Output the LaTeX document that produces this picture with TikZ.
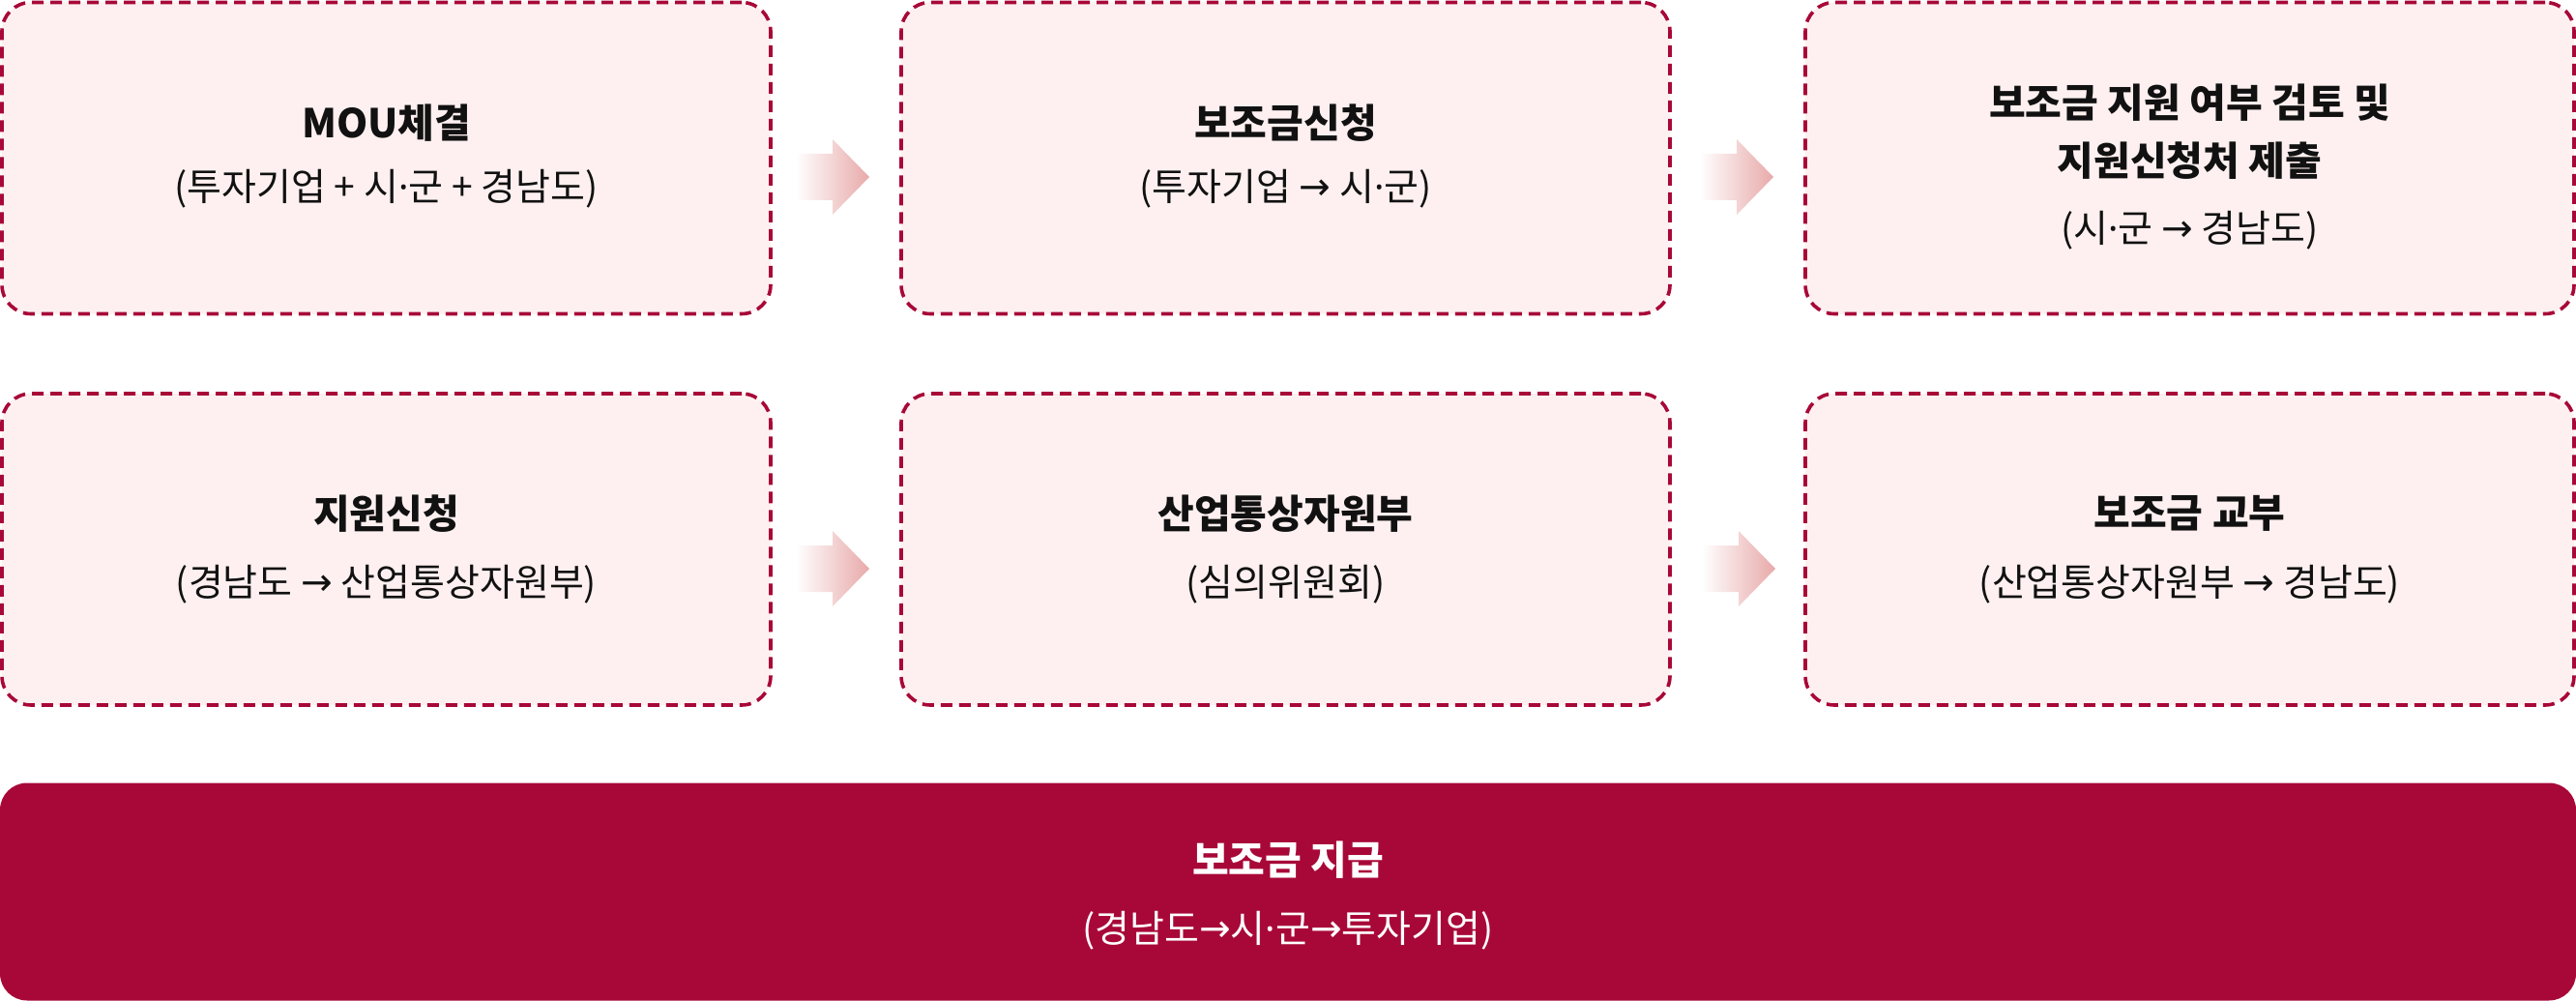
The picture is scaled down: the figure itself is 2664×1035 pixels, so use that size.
\documentclass[tikz,border=0pt]{standalone}
\usepackage{fontspec}
\setmainfont{Noto Sans CJK KR}
\newfontfamily\latinfont{Noto Sans}
\newfontfamily\symfont{DejaVu Sans}
\usepackage{tikz}

\definecolor{crimson}{HTML}{A80838}
\definecolor{boxpink}{HTML}{FEF0F0}
\definecolor{arrowpink}{HTML}{E8A9A9}
\definecolor{inktext}{HTML}{111111}

% narrow dot and arrow
\newcommand{\mdot}{{\latinfont ·}}
\newcommand{\rarr}{{\symfont\raisebox{1pt}{→}}}

\tikzset{
  stepbox/.style={draw=crimson, fill=boxpink, line width=3.6pt,
    dash pattern=on 12pt off 7pt, rounded corners=30pt,
    minimum width=795pt, minimum height=322pt, inner sep=0pt},
  paybox/.style={fill=crimson, rounded corners=28pt,
    minimum width=2664pt, minimum height=225pt, inner sep=0pt},
  title/.style={text=inktext, align=center, inner sep=0pt,
    font=\fontsize{41}{60}\selectfont\bfseries},
  sub/.style={text=inktext, align=center, inner sep=0pt,
    font=\fontsize{39}{50}\selectfont},
  flow/.style={left color=white, middle color=arrowpink!75, right color=arrowpink}
}

\begin{document}
\begin{tikzpicture}[x=1pt,y=-1pt]
	\useasboundingbox (0,0) rectangle (2664,1035);

	% row 1
	\node[stepbox] (mou)    at ( 399.5,163.5) {};
	\node[stepbox] (apply)  at (1329.5,163.5) {};
	\node[stepbox] (review) at (2264.5,163.5) {};

	\node[title] (mout) at ( 399.5,127) {MOU체결};
	\node[sub]   (mous) at ( 399.5,195) {(투자기업 + 시\mdot 군 + 경남도)};

	\node[title] (applyt) at (1329.5,127) {보조금신청};
	\node[sub]   (applys) at (1329.5,195) {(투자기업 \rarr{} 시\mdot 군)};

	\node[title] (reviewt) at (2264.5,136.5) {보조금 지원 여부 검토 및\\지원신청처 제출};
	\node[sub]   (reviews) at (2264.5,238) {(시\mdot 군 \rarr{} 경남도)};

	% row 2
	\node[stepbox] (request) at ( 399.5,568) {};
	\node[stepbox] (motie)   at (1329.5,568) {};
	\node[stepbox] (grant)   at (2264.5,568) {};

	\node[title] (requestt) at ( 399.5,531) {지원신청};
	\node[sub]   (requests) at ( 399.5,604) {(경남도 \rarr{} 산업통상자원부)};

	\node[title] (motiet) at (1329.5,531) {산업통상자원부};
	\node[sub]   (moties) at (1329.5,604) {(심의위원회)};

	\node[title] (grantt) at (2264.5,531) {보조금 교부};
	\node[sub]   (grants) at (2264.5,604) {(산업통상자원부 \rarr{} 경남도)};

	% arrows
	\shade[flow] ( 823,159) -- ( 861,159) -- ( 861,144) -- ( 899,183) -- ( 861,222) -- ( 861,207) -- ( 823,207) -- cycle;
	\shade[flow] (1758,159) -- (1796,159) -- (1796,144) -- (1834,183) -- (1796,222) -- (1796,207) -- (1758,207) -- cycle;
	\shade[flow] ( 823,564) -- ( 861,564) -- ( 861,549) -- ( 899,588) -- ( 861,627) -- ( 861,612) -- ( 823,612) -- cycle;
	\shade[flow] (1760,564) -- (1798,564) -- (1798,549) -- (1836,588) -- (1798,627) -- (1798,612) -- (1760,612) -- cycle;

	% payment
	\node[paybox] (pay) at (1332,922) {};
	\node[title, text=white] (payt) at (1332,889) {보조금 지급};
	\node[sub, text=white]   (pays) at (1332,962) {(경남도\rarr 시\mdot 군\rarr 투자기업)};
\end{tikzpicture}
\end{document}
